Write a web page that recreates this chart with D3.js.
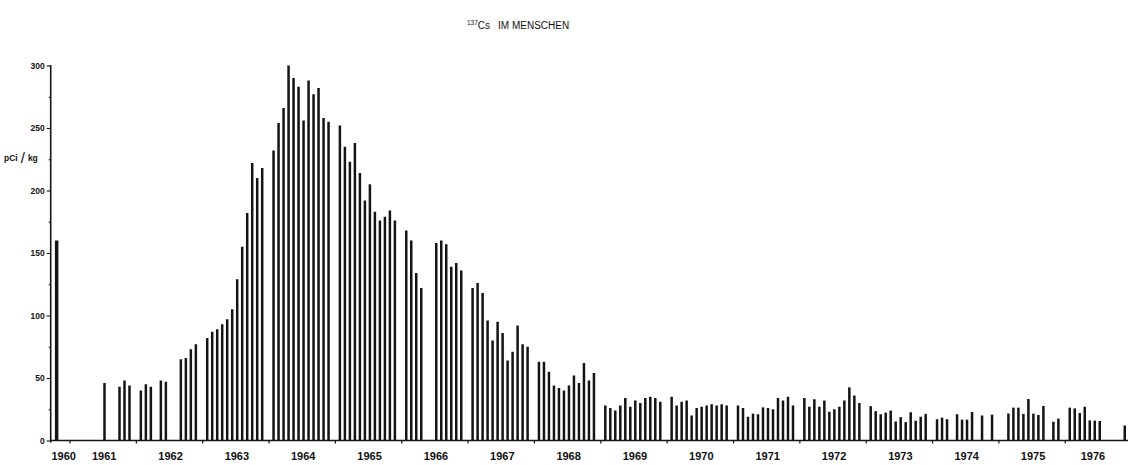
<!DOCTYPE html>
<html>
<head>
<meta charset="utf-8">
<script src="https://cdn.jsdelivr.net/npm/d3@7"></script>
<style>
  html, body { margin: 0; padding: 0; background: #fff; }
  svg { display: block; }
  text { fill: #111; }
</style>
</head>
<body>
<svg id="chart" width="1128" height="465"></svg>
<script>
// Monthly mean 137Cs body burden (pCi/kg), one array per year, Jan..Dec (null = no measurement)
const v1960 = [null, null, null, null, null, null, null, null, null, null, 160, null];
const v1961 = [null, null, null, null, null, null, 46, null, null, 43, 48, 44];
const v1962 = [40, 45, 43, null, 48, 47, null, null, 65, 66, 73, 77];
const v1963 = [82, 87, 89, 93, 97, 105, 129, 155, 182, 222, 210, 218];
const v1964 = [232, 254, 266, 300, 290, 283, 256, 288, 277, 282, 258, 255];
const v1965 = [252, 235, 223, 238, 214, 192, 205, 183, 176, 179, 184, 176];
const v1966 = [168, 160, 134, 122, null, null, 158, 160, 157, 139, 142, 136];
const v1967 = [122, 126, 118, 96, 80, 95, 86, 64, 71, 92, 77, 75];
const v1968 = [63, 63, 55, 44, 42, 40, 44, 52, 46, 62, 48, 54];
const v1969 = [28, 26, 24, 28, 34, 27, 32, 30, 34, 35, 34, 31];
const v1970 = [35, 28, 31, 32, 20, 26, 27, 28, 29, 28, 29, 28];
const v1971 = [28, 26, 19, 21.5, 21, 26.5, 26, 25, 34, 32, 35, 28];
const v1972 = [34, 27, 33, 27, 32, 23, 25, 27, 32, 42.5, 36, 30];
const v1973 = [27.5, 23.5, 21, 22.3, 24, 15.2, 18.7, 14.7, 22.6, 15.8, 19, 21.3];
const v1974 = [17, 18.3, 17, null, 21, 16.7, 16.7, 22.8, null, 20, null, 20.7];
const v1975 = [null, 21.6, 26.3, 26.3, 21.3, 33.2, 21.5, 20.4, 27.6, null, 15, 17.5];
const v1976 = [26.3, 25.7, 22, 27, 16.1, 15.9, 15.6, null, null, null, null, 12];

const years = [1960, 1961, 1962, 1963, 1964, 1965, 1966, 1967, 1968,
               1969, 1970, 1971, 1972, 1973, 1974, 1975, 1976];
const yearValues = [v1960, v1961, v1962, v1963, v1964, v1965, v1966, v1967, v1968,
                    v1969, v1970, v1971, v1972, v1973, v1974, v1975, v1976];
const yearLabels = years.map(String);
const yTickValues = [0, 25, 50, 75, 100, 125, 150, 175, 200, 225, 250, 275, 300];
const yLabelValues = [0, 50, 100, 150, 200, 250, 300];

// flatten to one record per measured month
const records = [];
years.forEach((yr, i) => {
  yearValues[i].forEach((v, m) => {
    if (v !== null) records.push({ year: yr, month: m, value: v });
  });
});

const svg = d3.select("#chart");
const axisLeftX = 50.7;
const chartRight = 1128;
const font = "'Liberation Sans', Arial, sans-serif";

const x = d3.scaleLinear().domain([1960, 1977]).range([3.65, 1131.6]);
const monthPos = d3.scalePoint().domain(d3.range(12)).range([4.5, 59.5]);
const y = d3.scaleLinear().domain([0, 300]).range([440.5, 65.5]);

const barW = 2.5;
const ink = "#141414";

// bars
svg.append("g")
  .selectAll("rect")
  .data(records)
  .join("rect")
  .attr("x", d => x(d.year) + monthPos(d.month) - barW / 2 - (d.year === 1960 ? 2 : 0))
  .attr("y", d => y(d.value))
  .attr("width", d => d.year === 1960 ? barW + 1 : barW)
  .attr("height", d => y(0) - y(d.value))
  .attr("fill", ink);

// y axis: major ticks labelled every 50, short minor ticks every 25
const yAxis = d3.axisLeft(y)
  .tickValues(yTickValues)
  .tickSize(4)
  .tickSizeOuter(0)
  .tickFormat(d => yLabelValues.includes(d) ? d : "");
const gy = svg.append("g")
  .attr("transform", `translate(${axisLeftX},0)`)
  .call(yAxis);
gy.select(".domain").remove();
gy.selectAll(".tick line")
  .attr("stroke", ink)
  .attr("stroke-width", 1.1)
  .attr("x2", d => yLabelValues.includes(d) ? -4 : -2);
gy.selectAll(".tick text")
  .attr("x", -6)
  .style("font-family", font)
  .style("font-size", "8.5px")
  .style("font-weight", "bold")
  .attr("fill", ink);

// vertical axis line
svg.append("rect")
  .attr("x", axisLeftX - 0.8)
  .attr("y", y(300) - 0.5)
  .attr("width", 1.6)
  .attr("height", y(0) - y(300) + 2.5)
  .attr("fill", ink);

// x axis baseline with year boundary ticks
const gx = svg.append("g").attr("transform", `translate(0,${y(0)})`);
gx.append("line")
  .attr("x1", axisLeftX).attr("x2", chartRight)
  .attr("y1", 0).attr("y2", 0)
  .attr("stroke", ink).attr("stroke-width", 1.3);
gx.selectAll("line.yt")
  .data(years.slice(1))
  .join("line")
  .attr("class", "yt")
  .attr("x1", d => x(d)).attr("x2", d => x(d))
  .attr("y1", 0).attr("y2", 3)
  .attr("stroke", ink).attr("stroke-width", 1.2);
gx.selectAll("text")
  .data(years)
  .join("text")
  .attr("x", d => Math.min(Math.max(x(d + 0.5) + 1, axisLeftX + 13), chartRight - 35))
  .attr("y", 19.5)
  .attr("text-anchor", "middle")
  .style("font-family", font)
  .style("font-size", "11px")
  .style("font-weight", "bold")
  .text((d, i) => yearLabels[i]);

// unit label
const unit = svg.append("text")
  .attr("x", 4).attr("y", 161)
  .style("font-family", font)
  .style("font-size", "8.5px")
  .style("font-weight", "bold");
unit.append("tspan").text("pCi");
unit.append("tspan").attr("dx", 3).style("font-size", "15px").style("font-weight", "normal").attr("dy", 2).text("/");
unit.append("tspan").attr("dx", 3).attr("dy", -2).text("kg");

// title
const title = svg.append("text")
  .attr("x", 467).attr("y", 29)
  .style("font-family", font)
  .style("font-size", "10px");
title.append("tspan").style("font-size", "6.5px").attr("dy", -4).text("137");
title.append("tspan").attr("dy", 4).text("Cs");
title.append("tspan").attr("dx", 8).text("IM MENSCHEN");
</script>
</body>
</html>
